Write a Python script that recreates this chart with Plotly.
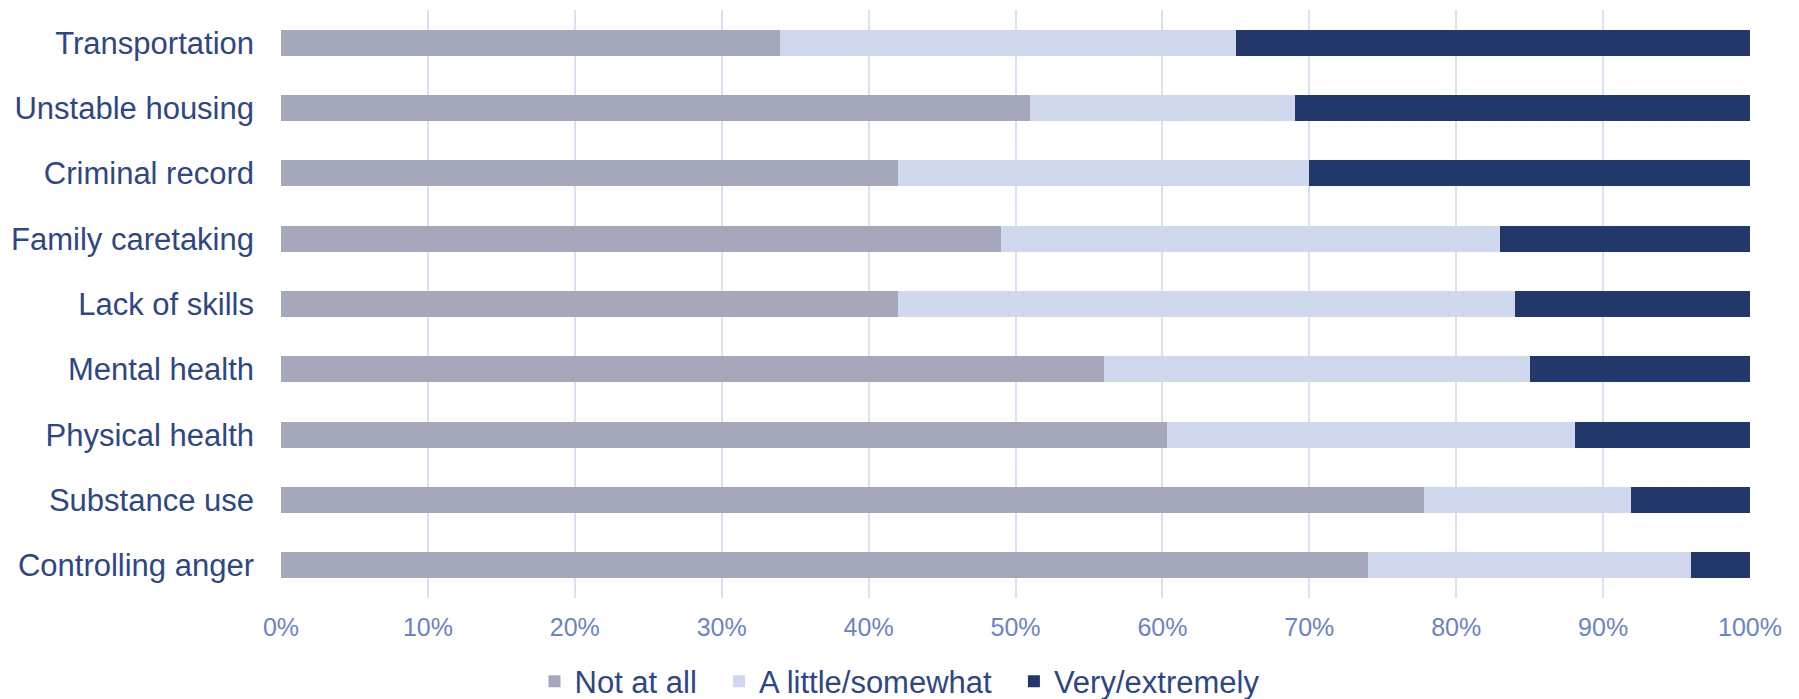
import plotly.graph_objects as go

# Barriers to employment, share of respondents by how much each one affects them
categories = [
    "Transportation",
    "Unstable housing",
    "Criminal record",
    "Family caretaking",
    "Lack of skills",
    "Mental health",
    "Physical health",
    "Substance use",
    "Controlling anger",
]
not_at_all = [34.0, 51.0, 42.0, 49.0, 42.0, 56.0, 60.3, 77.8, 74.0]
a_little_somewhat = [31.0, 18.0, 28.0, 34.0, 42.0, 29.0, 27.8, 14.1, 22.0]
very_extremely = [35.0, 31.0, 30.0, 17.0, 16.0, 15.0, 11.9, 8.1, 4.0]

series_names = ["Not at all", "A little/somewhat", "Very/extremely"]
series_values = [not_at_all, a_little_somewhat, very_extremely]
series_colors = ["#A5A8BB", "#CFD8EC", "#22386A"]

x_ticks = list(range(0, 101, 10))

FONT = "Liberation Sans, Arial, sans-serif"
NAVY = "#2E4784"
TICK_BLUE = "#6B84C3"

# trailing non-breaking spaces widen the gap between legend entries
legend_pad = ["\u00a0" * 2, "\u00a0" * 2, ""]

fig = go.Figure()
for name, vals, color, pad in zip(series_names, series_values, series_colors, legend_pad):
    fig.add_trace(
        go.Bar(
            y=categories,
            x=vals,
            name=name + pad,
            orientation="h",
            marker=dict(color=color, line=dict(width=0)),
        )
    )

fig.update_layout(
    barmode="stack",
    bargap=0.6,
    width=1799,
    height=699,
    margin=dict(l=281, r=49, t=10, b=101),
    paper_bgcolor="white",
    plot_bgcolor="white",
    font=dict(family=FONT, color=NAVY),
    showlegend=True,
    legend=dict(
        orientation="h",
        xref="container",
        yref="container",
        x=0.5,
        xanchor="center",
        y=0.025,
        yanchor="middle",
        font=dict(family=FONT, size=31, color=NAVY),
        itemwidth=30,
        traceorder="normal",
    ),
)

fig.update_xaxes(
    range=[0, 100],
    tickvals=x_ticks,
    ticktext=[f"{v}%" for v in x_ticks],
    showgrid=True,
    gridcolor="#D9E0F1",
    gridwidth=1.5,
    zeroline=False,
    showline=False,
    tickfont=dict(family=FONT, size=25, color=TICK_BLUE),
    ticklabelstandoff=12,
)
fig.update_yaxes(
    autorange="reversed",
    showgrid=False,
    showline=False,
    tickfont=dict(family=FONT, size=31, color=NAVY),
    ticklabelstandoff=26,
)

fig.write_html("out.html")
